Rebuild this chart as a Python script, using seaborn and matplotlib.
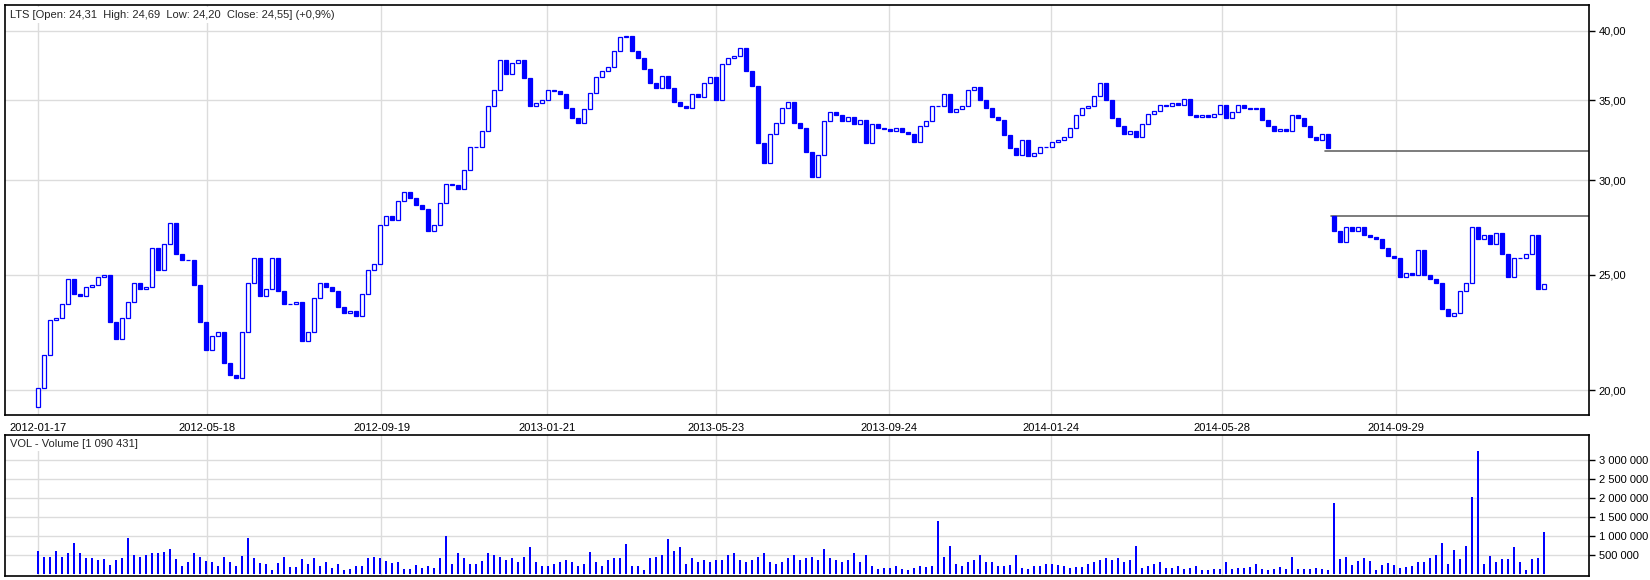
import numpy as np
import pandas as pd
import matplotlib
matplotlib.use("Agg")
import matplotlib.pyplot as plt
import seaborn as sns
from matplotlib.ticker import FixedLocator, FuncFormatter, NullLocator

# header values of the last session
ticker = "LTS"
last_open, last_high, last_low, last_close = "24,31", "24,69", "24,20", "24,55"
last_change = "+0,9%"
last_volume = "1 090 431"

# closes, one bar per ~3 sessions
first_open = 19.37
closes = [
    20.1, 21.4, 22.9, 23.0, 23.6, 24.8, 24.1, 24.0, 24.4, 24.5,
    24.9, 25.0, 22.8, 22.1, 23.0, 23.7, 24.6, 24.3, 24.4, 26.3,
    25.2, 26.5, 27.6, 26.0, 25.7, 25.7, 24.5, 22.8, 21.6, 22.2,
    22.4, 21.1, 20.6, 20.5, 22.4, 24.6, 25.8, 24.0, 24.3, 25.8,
    24.2, 23.6, 23.6, 23.7, 22.0, 22.4, 23.9, 24.6, 24.4, 24.2,
    23.5, 23.2, 23.3, 23.1, 24.1, 25.2, 25.5, 27.5, 28.0, 27.8,
    28.8, 29.3, 29.0, 28.6, 28.4, 27.2, 27.5, 28.7, 29.8, 29.7,
    29.5, 30.6, 32.0, 32.0, 33.0, 34.6, 35.7, 37.8, 36.8, 37.6,
    37.8, 36.5, 34.6, 34.8, 35.0, 35.7, 35.6, 35.4, 34.5, 33.8,
    33.5, 34.4, 35.5, 36.6, 37.0, 37.3, 38.5, 39.5, 39.6, 38.5,
    38.0, 37.2, 36.2, 35.8, 36.7, 35.8, 34.9, 34.6, 34.5, 35.4,
    35.2, 36.2, 36.6, 35.0, 37.5, 38.0, 38.1, 38.7, 37.0, 36.0,
    32.2, 31.0, 32.8, 33.5, 34.5, 34.9, 33.5, 33.2, 31.7, 30.2,
    31.5, 33.6, 34.2, 34.0, 33.6, 33.9, 33.4, 33.7, 32.2, 33.4,
    33.2, 33.1, 33.0, 33.2, 32.9, 32.8, 32.3, 33.3, 33.6, 34.6,
    34.6, 35.4, 34.2, 34.4, 34.6, 35.7, 35.9, 35.0, 34.5, 33.9,
    33.7, 32.7, 31.9, 31.5, 32.4, 31.4, 31.6, 32.0, 32.0, 32.3,
    32.4, 32.6, 33.2, 34.0, 34.5, 34.6, 35.3, 36.2, 35.0, 33.8,
    33.3, 32.8, 33.0, 32.6, 33.4, 34.1, 34.3, 34.7, 34.6, 34.8,
    34.7, 35.1, 34.0, 33.9, 34.0, 33.9, 34.1, 34.7, 33.8, 34.2,
    34.7, 34.5, 34.4, 34.5, 33.7, 33.3, 33.0, 33.1, 33.0, 34.0,
    33.8, 33.3, 32.6, 32.4, 32.8, 31.9, 27.2, 26.6, 27.4, 27.2,
    27.4, 27.0, 26.9, 26.8, 26.3, 25.9, 25.8, 24.9, 25.1, 25.0,
    26.2, 25.0, 24.8, 24.6, 23.4, 23.1, 23.2, 24.2, 24.6, 27.4,
    26.8, 27.0, 26.5, 27.1, 26.0, 24.9, 25.8, 25.8, 26.0, 27.0,
    24.3, 24.55,
]

# volume in thousands of shares, same bars
volume_k = [
    600, 450, 450, 600, 450, 550, 800, 550, 420, 420,
    350, 380, 220, 350, 400, 950, 500, 450, 500, 550,
    550, 580, 650, 380, 200, 300, 550, 450, 330, 300,
    200, 450, 300, 200, 470, 950, 420, 270, 250, 100,
    280, 450, 170, 170, 380, 250, 420, 200, 300, 150,
    250, 90, 120, 200, 200, 400, 450, 420, 330, 270,
    300, 130, 120, 220, 160, 200, 150, 400, 990, 250,
    550, 400, 250, 250, 330, 550, 500, 450,
    350, 400, 300, 450, 700, 300, 200, 200, 250, 300,
    350, 300, 200, 250, 560, 300, 200, 350, 400, 400,
    780, 200, 200, 100, 400, 450, 500, 900, 600, 700,
    250, 400, 300, 350, 300, 350, 350, 500, 550, 350,
    300, 350, 450, 550, 300, 250, 300, 400, 500, 350,
    400, 450, 350, 650, 400, 350, 300, 350, 550, 300,
    500, 200, 120, 150, 150, 200, 120, 100, 150, 200,
    180, 200, 1380, 450, 720, 250, 200, 300, 350, 480,
    300, 300, 200, 200, 220, 500, 150, 120, 200, 200,
    250, 250, 220, 200, 150, 180, 180, 250, 300, 350,
    400, 350, 400, 300, 350, 720, 150, 200, 250, 300,
    150, 150, 200, 120, 150, 200, 100, 100, 120,
    120, 310, 120, 150, 150, 180, 260, 120, 100, 120,
    180, 120, 450, 120, 130, 120, 140, 120, 100, 1860,
    380, 450, 220, 330, 410, 330, 100, 220, 280, 230,
    150, 180, 200, 300, 300, 410, 490, 810, 250, 620,
    390, 740, 2020, 3240, 250, 470, 300, 390, 390, 700,
    300, 100, 390, 420, 1090,
]

# price gap left open in the last months
gap_index = 216
gap_top = 31.73
gap_bottom = 27.99

date_labels = ["2012-01-17", "2012-05-18", "2012-09-19", "2013-01-21", "2013-05-23",
               "2013-09-24", "2014-01-24", "2014-05-28", "2014-09-29"]
date_pos = [0.05, 28.2, 57.25, 84.9, 112.95, 141.9, 168.8, 197.4, 226.4]
price_ticks = [20, 25, 30, 35, 40]
volume_ticks = [500000, 1000000, 1500000, 2000000, 2500000, 3000000]

df = pd.DataFrame({"bar": np.arange(len(closes)), "close": closes,
                   "volume": np.array(volume_k) * 1000})
df["open"] = df["close"].shift(1)
df.loc[0, "open"] = first_open
df.loc[gap_index, "open"] = gap_bottom
df["up"] = df["close"] >= df["open"]

blue = "#0000ff"
grid_c = "#dcdcdc"

sns.set_theme(style="white")
plt.rcParams["font.family"] = ["Liberation Sans", "DejaVu Sans"]

fig = plt.figure(figsize=(16.5, 5.8), dpi=100)
ax = fig.add_axes([0.003, 0.2845, 0.960, 0.707])
axv = fig.add_axes([0.003, 0.0069, 0.960, 0.2431])

x_lo, x_hi = -5.5, 258.5

# candles
up = df[df["up"]]
dn = df[~df["up"]]
ax.bar(up["bar"], up["close"] - up["open"], bottom=up["open"], width=0.6,
       facecolor="white", edgecolor=blue, linewidth=0.9, zorder=3)
ax.bar(dn["bar"], dn["open"] - dn["close"], bottom=dn["close"], width=0.6,
       facecolor=blue, edgecolor=blue, linewidth=0.9, zorder=3)

# gap lines
ax.plot([gap_index - 1.5, x_hi], [gap_top, gap_top], color="#666666", lw=1.2, zorder=2)
ax.plot([gap_index - 0.5, x_hi], [gap_bottom, gap_bottom], color="#666666", lw=1.2, zorder=2)

ax.set_yscale("log")
ax.set_xlim(x_lo, x_hi)
ax.set_ylim(19.07, 42.06)
ax.yaxis.tick_right()
ax.yaxis.set_major_locator(FixedLocator(price_ticks))
ax.yaxis.set_minor_locator(NullLocator())
ax.yaxis.set_major_formatter(FuncFormatter(lambda v, p: f"{v:.2f}".replace(".", ",")))
ax.set_xticks(date_pos)
ax.set_xticklabels(date_labels)

# volume bars
sns.barplot(data=df, x="bar", y="volume", native_scale=True, color=blue, saturation=1,
            width=0.4, linewidth=0, errorbar=None, ax=axv, zorder=3)
axv.set_xlim(x_lo, x_hi)
axv.set_ylim(-63000, 3657000)
axv.yaxis.tick_right()
axv.yaxis.set_major_locator(FixedLocator(volume_ticks))
axv.yaxis.set_major_formatter(FuncFormatter(lambda v, p: f"{int(v):,}".replace(",", " ")))
axv.set_xticks(date_pos)
axv.set_xticklabels([])
axv.set_xlabel("")
axv.set_ylabel("")

for a in (ax, axv):
    a.grid(True, color=grid_c, lw=1)
    a.set_axisbelow(True)
    for s in a.spines.values():
        s.set_color("black")
        s.set_linewidth(1.2)
    a.tick_params(axis="both", direction="out", length=4, width=1, color="black",
                  labelsize=8, pad=3, labelcolor="black")
axv.tick_params(axis="x", length=0)
ax.tick_params(axis="x", length=3)

ax.text(0.003, 0.988,
        f"{ticker} [Open: {last_open}  High: {last_high}  Low: {last_low}  Close: {last_close}] ({last_change})",
        transform=ax.transAxes, ha="left", va="top", fontsize=8, zorder=5,
        bbox=dict(facecolor="white", edgecolor="none", pad=2))
axv.text(0.003, 0.975, f"VOL - Volume [{last_volume}]",
         transform=axv.transAxes, ha="left", va="top", fontsize=8, zorder=5,
         bbox=dict(facecolor="white", edgecolor="none", pad=2))

fig.savefig("out.png", dpi=100)
